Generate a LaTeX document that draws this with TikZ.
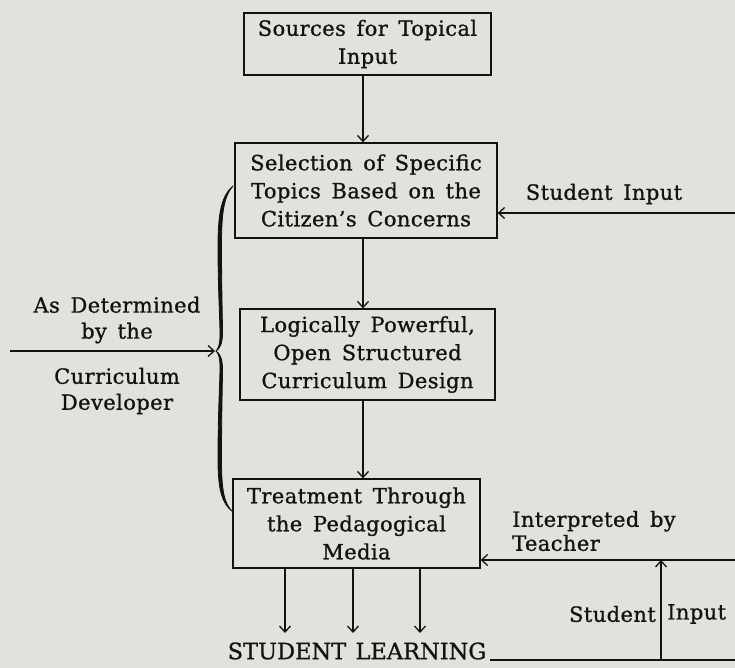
\documentclass[tikz,border=0pt]{standalone}
\usepackage{fontspec}
\setmainfont{DejaVu Serif}[LetterSpace=2, WordSpace=1.5, FakeBold=0.9]
\newfontfamily\capsfont{DejaVu Serif}[WordSpace=1.3, FakeBold=0.9]
\usetikzlibrary{arrows.meta}
\definecolor{paper}{HTML}{E3E1DC}
\definecolor{ink}{HTML}{121212}
\tikzset{
  txt/.style={text=ink, inner sep=0pt, font=\fontsize{21}{28}\selectfont},
  stage/.style={txt, draw=ink, line width=1.3pt, align=center},
  lbl/.style={txt, align=center},
  flow/.style={draw=ink, line width=1.3pt,
    -{Straight Barb[length=6pt,width=11pt,line width=1.3pt]}},
  rule/.style={draw=ink, line width=1.3pt},
  bracearm/.style={fill=ink, draw=ink, line width=0.8pt, line join=round},
}
\begin{document}
\begin{tikzpicture}[x=1pt, y=-1pt]
  \fill[paper] (0,0) rectangle (735,668);
  \useasboundingbox (0,0) rectangle (735,668);

  % main chain of stages
  \node[stage, minimum width=247pt, minimum height=62pt] (src) at (367.5,44)
    {Sources for Topical\\Input};
  \node[stage, minimum width=262pt, minimum height=95pt] (sel) at (366,190.5)
    {Selection of Specific\\Topics Based on the\\Citizen's Concerns};
  \node[stage, minimum width=255pt, minimum height=91pt] (des) at (367.5,354.5)
    {Logically Powerful,\\Open Structured\\Curriculum Design};
  \node[stage, minimum width=247pt, minimum height=89pt] (med) at (356.5,523.5)
    {Treatment Through\\the Pedagogical\\Media};

  \coordinate (spine) at (363,0);
  \draw[flow] (src.south -| spine) -- (sel.north -| spine);
  \draw[flow] (sel.south -| spine) -- (des.north -| spine);
  \draw[flow] (des.south -| spine) -- (med.north -| spine);

  % student input into topic selection
  \node[lbl] (sin1) at (604,194) {Student Input};
  \coordinate (rin) at (735,213);
  \draw[flow] (rin) -- (rin -| sel.east);

  % curriculum developer brace, arms swelling towards the middle
  \coordinate (btip) at (216,351);
  \filldraw[bracearm]
    (233,186) .. controls (222,195) and (218,212) .. (218,245)
    .. controls (218,290) and (220,320) .. (220,335)
    .. controls (220,345) and (218,349) .. (btip)
    .. controls (219,349) and (222.5,345) .. (222.5,333)
    .. controls (222.5,318) and (221.5,290) .. (221.5,245)
    .. controls (221.5,212) and (224,196) .. (233,186) -- cycle;
  \filldraw[bracearm]
    (233,512) .. controls (222,504) and (218,490) .. (218,460)
    .. controls (218,410) and (220,382) .. (220,367)
    .. controls (220,357) and (218,353) .. (btip)
    .. controls (219,353) and (222.5,357) .. (222.5,369)
    .. controls (222.5,384) and (221.5,410) .. (221.5,460)
    .. controls (221.5,490) and (224,504) .. (233,512) -- cycle;
  \coordinate (lin) at (10,351);
  \draw[flow, shorten >=1pt] (lin) -- (btip);
  \node[lbl, font=\fontsize{21}{26}\selectfont] (det) at (117,320)
    {As Determined\\by the};
  \node[lbl, font=\fontsize{21}{26}\selectfont] (dev) at (117,391)
    {Curriculum\\Developer};

  % outputs to student learning
  \coordinate (out1) at (285,633);
  \coordinate (out2) at (353,633);
  \coordinate (out3) at (420,633);
  \foreach \o in {out1,out2,out3}
    \draw[flow] (med.south -| \o) -- (\o);
  \node[txt, font=\capsfont\fontsize{22.5}{28}\selectfont] (learn) at (357,651)
    {STUDENT LEARNING};

  % feedback loop through the teacher
  \coordinate (fbL) at (490,660);
  \coordinate (fbR) at (735,660);
  \coordinate (fbJ) at (661,660);
  \coordinate (tchR) at (735,560);
  \draw[rule] (fbL) -- (fbR);
  \draw[flow] (fbJ) -- (fbJ |- tchR);
  \draw[flow] (tchR) -- (tchR -| med.east);
  \node[lbl, align=left, anchor=west, font=\fontsize{21}{24}\selectfont] (tch)
    at (512,531) {Interpreted by\\Teacher};
  \node[txt, anchor=east] (sin2a) at (656,614) {Student};
  \node[txt, anchor=west] (sin2b) at (667,614) {Input};
\end{tikzpicture}
\end{document}
